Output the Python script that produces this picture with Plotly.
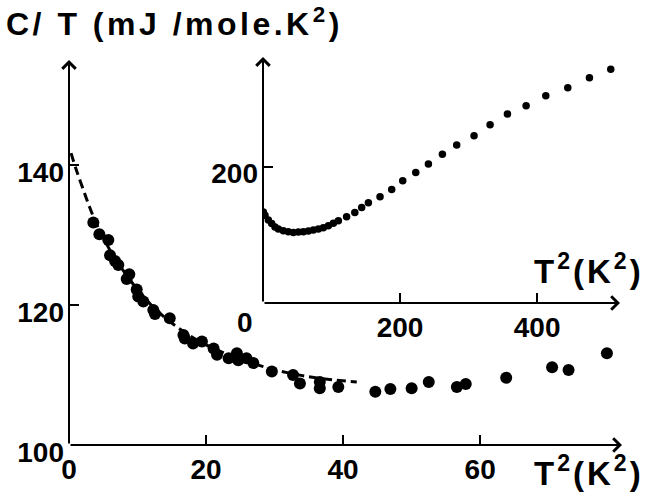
import plotly.graph_objects as go

# Main panel data: C/T (mJ/mole.K^2) vs T^2 (K^2)
main_t2 = [3.55, 4.43, 5.74, 5.99, 6.72, 7.2, 8.42, 8.8, 9.88, 10.1, 10.85, 12.3, 12.55, 14.7,
           16.7, 16.9, 18.1, 19.4, 21.1, 21.6, 23.3, 24.5, 24.7, 25.9, 26.9, 29.6, 32.7, 33.7,
           36.6, 36.6, 39.3, 44.7, 46.9, 50.0, 52.5, 56.6, 57.9, 63.8, 70.5, 72.9, 78.5]
main_ct = [131.8, 130.1, 129.3, 127.1, 126.3, 125.7, 123.7, 124.4, 122.2, 121.2, 120.5, 119.3, 118.7, 118.1,
           115.7, 115.2, 114.5, 114.8, 113.8, 112.9, 112.4, 113.1, 112.1, 112.4, 111.7, 110.5, 110.0, 108.8,
           109.0, 108.1, 108.3, 107.6, 108.0, 108.1, 109.0, 108.3, 108.7, 109.6, 111.1, 110.7, 113.1]

# Dashed fit curve
fit_t2 = [0.3, 1, 2, 3, 4, 6, 8, 10, 12, 14, 16, 18, 20, 24, 28, 32, 36, 42]
fit_ct = [141.7, 139.5, 136.7, 134.0, 131.6, 127.8, 124.8, 122.2, 120.0, 118.2, 116.7, 115.4, 114.3,
          112.6, 111.3, 110.3, 109.6, 109.0]

# Inset data
ins_t2 = [0.5, 2.9, 7.8, 12.7, 17.5, 22.4, 29.7, 37, 44.3, 51.6, 58.9, 66.2, 73.5, 80.8, 88, 95.4,
          102.7, 110, 122, 134, 144, 153.8, 170.8, 187.8, 203.9, 222.9, 241.4, 261.8, 282.7, 308,
          331.4, 356.7, 384, 412.7, 444.8, 476.4, 507.5]
ins_ct = [134, 129, 122, 117, 112, 108.8, 106.4, 104.9, 103.9, 104.4, 104.9, 105.9, 107.4, 108.8, 110.8,
          113.7, 117.2, 121, 127, 133.3, 140.7, 147.5, 156.4, 167.2, 179.9, 192.2, 204.4, 219, 232.4,
          246, 262.3, 278, 290.2, 304.9, 316.7, 331.4, 344]

main_xticks = [0, 20, 40, 60]
main_yticks = [100, 120, 140]
ins_xticks = [200, 400]
ins_yticks = [200]

W, H = 648, 496
def px(x):
    return x / W
def py(y):
    return (H - y) / H

FONT = "Liberation Sans"
tickfont = dict(family=FONT, size=28, color="black", weight="bold")

fig = go.Figure()
fig.add_trace(go.Scatter(x=fit_t2, y=fit_ct, mode="lines", line=dict(color="black", width=3, dash="9px,5px", shape="spline"),
                         xaxis="x", yaxis="y", showlegend=False))
fig.add_trace(go.Scatter(x=main_t2, y=main_ct, mode="markers", marker=dict(color="black", size=12),
                         xaxis="x", yaxis="y", showlegend=False))
fig.add_trace(go.Scatter(x=ins_t2, y=ins_ct, mode="markers", marker=dict(color="black", size=7.5),
                         xaxis="x2", yaxis="y2", showlegend=False))

MX = [0, 80.7]
MY = [100, 155]
IX = [0, 521]
IY = [0, 362]

axcommon = dict(showgrid=False, zeroline=False, showline=False, ticks="inside", ticklen=10, tickwidth=2,
                tickcolor="black", tickfont=tickfont, automargin=False)

fig.update_layout(
    template="none",
    width=W, height=H, margin=dict(l=0, r=0, t=0, b=0, pad=0),
    paper_bgcolor="white", plot_bgcolor="rgba(0,0,0,0)",
    xaxis=dict(domain=[px(69), px(622)], range=MX, anchor="y", tickvals=main_xticks, ticklabelstandoff=5, **axcommon),
    yaxis=dict(domain=[py(445), py(60)], range=MY, anchor="x", tickvals=main_yticks, ticklabelshift=7,
               ticklabelstandoff=4, **axcommon),
    xaxis2=dict(domain=[px(263), px(620)], range=IX, anchor="y2", tickvals=ins_xticks, ticklabelstandoff=5, **axcommon),
    yaxis2=dict(domain=[py(303), py(57)], range=IY, anchor="x2", tickvals=ins_yticks, ticklabelshift=6,
                ticklabelstandoff=4, **axcommon),
)

ann = []
arrow = dict(showarrow=True, arrowhead=4, arrowsize=1.3, arrowwidth=2, arrowcolor="black", text="")
# axis arrows (main)
ann.append(dict(x=MX[1], y=MY[0], ax=MX[0], ay=MY[0], xref="x", yref="y", axref="x", ayref="y", **arrow))
ann.append(dict(x=MX[0], y=MY[1], ax=MX[0], ay=MY[0], xref="x", yref="y", axref="x", ayref="y", **arrow))
# axis arrows (inset)
ann.append(dict(x=IX[1], y=IY[0], ax=IX[0], ay=IY[0], xref="x2", yref="y2", axref="x2", ayref="y2", **arrow))
ann.append(dict(x=IX[0], y=IY[1], ax=IX[0], ay=IY[0], xref="x2", yref="y2", axref="x2", ayref="y2", **arrow))
# inset origin label
ann.append(dict(x=0, y=0, xref="x2", yref="y2", text="0", showarrow=False, xshift=-18, yshift=-19,
                font=tickfont))
# titles
titlefont = dict(family=FONT, size=32, color="black", weight="bold")
ann.append(dict(x=px(4), y=py(22), xref="paper", yref="paper", xanchor="left", yanchor="middle",
                text='<span style="letter-spacing:3.5px">C/ T (mJ /mole.K<sup>2</sup>)</span>', showarrow=False,
                font=titlefont))
xtfont = dict(family=FONT, size=33, color="black", weight="bold")
ann.append(dict(x=px(646), y=py(471), xref="paper", yref="paper", xanchor="right", yanchor="middle",
                text='<span style="letter-spacing:3px">T<sup>2</sup>(K<sup>2</sup>)</span>', showarrow=False,
                font=xtfont))
ann.append(dict(x=px(646), y=py(269), xref="paper", yref="paper", xanchor="right", yanchor="middle",
                text='<span style="letter-spacing:3px">T<sup>2</sup>(K<sup>2</sup>)</span>', showarrow=False,
                font=xtfont))
fig.update_layout(annotations=ann)

fig.write_html("out.html")
